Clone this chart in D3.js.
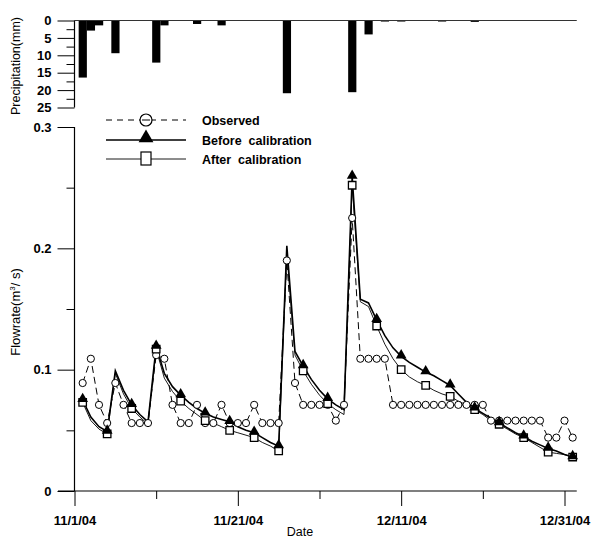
<!DOCTYPE html>
<html>
<head>
<meta charset="utf-8">
<script src="https://cdn.jsdelivr.net/npm/d3@7"></script>
<style>
  body { margin: 0; background: #fff; }
  svg { font-family: "Liberation Sans", Arial, sans-serif; }
</style>
</head>
<body>
<svg width="592" height="540"></svg>
<script>
// daily values, first entry = 11/2/04
const startDate = new Date(2004, 10, 2);

const precipitation = [16.4, 2.9, 1.4, 0, 9.4, 0, 0, 0, 0, 12.1, 1.4, 0, 0, 0, 1.0, 0, 0, 1.4, 0, 0,
  0, 0, 0, 0, 0, 20.9, 0, 0, 0, 0, 0, 0, 0, 20.6, 0, 4.0, 0, 0.3, 0, 0.3,
  0, 0, 0, 0, 0.3, 0, 0, 0, 0.4, 0, 0, 0, 0, 0, 0, 0, 0, 0, 0, 0, 0];

const observed = [0.089, 0.109, 0.071, 0.056, 0.089, 0.071, 0.056, 0.056, 0.056, 0.112,
  0.109, 0.071, 0.056, 0.056, 0.071, 0.056, 0.056, 0.071, 0.056, 0.056,
  0.056, 0.071, 0.056, 0.056, 0.056, 0.190, 0.089, 0.071, 0.071, 0.071,
  0.071, 0.058, 0.071, 0.225, 0.109, 0.109, 0.109, 0.109, 0.071, 0.071,
  0.071, 0.071, 0.071, 0.071, 0.071, 0.071, 0.071, 0.071, 0.071, 0.071,
  0.058, 0.058, 0.058, 0.058, 0.058, 0.058, 0.058, 0.044, 0.044, 0.058, 0.044];

const beforeCal = [0.075, 0.061, 0.053, 0.049, 0.099, 0.083, 0.071, 0.063, 0.057, 0.119,
  0.097, 0.086, 0.079, 0.073, 0.068, 0.064, 0.061, 0.059, 0.057, 0.053,
  0.050, 0.048, 0.044, 0.040, 0.037, 0.202, 0.115, 0.103, 0.092, 0.083,
  0.076, 0.071, 0.067, 0.259, 0.158, 0.155, 0.141, 0.128, 0.118, 0.111,
  0.106, 0.102, 0.098, 0.095, 0.091, 0.087, 0.080, 0.073, 0.068, 0.064,
  0.060, 0.056, 0.052, 0.048, 0.045, 0.041, 0.038, 0.035, 0.033, 0.030, 0.028];

const afterCal = [0.073, 0.058, 0.051, 0.047, 0.097, 0.080, 0.068, 0.061, 0.055, 0.117,
  0.093, 0.082, 0.074, 0.068, 0.063, 0.058, 0.056, 0.053, 0.050, 0.048,
  0.046, 0.044, 0.040, 0.037, 0.033, 0.196, 0.112, 0.099, 0.088, 0.079,
  0.072, 0.067, 0.063, 0.252, 0.156, 0.152, 0.136, 0.121, 0.109, 0.100,
  0.094, 0.090, 0.087, 0.083, 0.080, 0.078, 0.074, 0.071, 0.067, 0.063,
  0.058, 0.055, 0.051, 0.047, 0.044, 0.040, 0.036, 0.032, 0.031, 0.030, 0.028];

const majorTickDates = [new Date(2004, 10, 1), new Date(2004, 10, 21), new Date(2004, 11, 11), new Date(2004, 11, 31)];
const minorTickDates = [new Date(2004, 10, 11), new Date(2004, 11, 1), new Date(2004, 11, 21)];
const flowTicks = [0, 0.1, 0.2, 0.3];
const flowMinor = [0.05, 0.15, 0.25];
const rainTicks = [0, 5, 10, 15, 20, 25];
const rainMinor = [2.5, 7.5, 12.5, 17.5, 22.5];
const legendLabels = ["Observed", "Before  calibration", "After  calibration"];

const dates = observed.map((_, i) => d3.timeDay.offset(startDate, i));
const markerEvery = 3;

const svg = d3.select("svg");

const x = d3.scaleTime()
    .domain([new Date(2004, 10, 1), new Date(2004, 11, 31)])
    .range([74.5, 564.5]);
const y = d3.scaleLinear().domain([0, 0.3]).range([491, 127]);
const yr = d3.scaleLinear().domain([0, 25]).range([20.5, 107.5]);

const xEnd = x(new Date(2005, 0, 1, 12));

// ---- precipitation panel
const gr = svg.append("g");
gr.selectAll("rect")
  .data(precipitation.map((v, i) => ({date: dates[i], v: v})).filter(d => d.v > 0))
  .enter().append("rect")
    .attr("x", d => x(d.date) - 4)
    .attr("width", 8.2)
    .attr("y", yr(0))
    .attr("height", d => yr(d.v) - yr(0))
    .attr("fill", "#000");

gr.append("line")
    .attr("x1", x.range()[0]).attr("x2", xEnd)
    .attr("y1", yr(0)).attr("y2", yr(0))
    .attr("stroke", "#333").attr("stroke-width", 1.2);

const rainAxis = d3.axisLeft(yr).tickValues(rainTicks).tickSize(17).tickPadding(6);
gr.append("g")
    .attr("transform", `translate(${x.range()[0]},0)`)
    .call(rainAxis)
    .call(g => g.select(".domain").remove())
    .call(g => g.selectAll("text").attr("font-size", 13).attr("font-weight", "bold"));
gr.append("g")
    .attr("transform", `translate(${x.range()[0]},0)`)
    .call(d3.axisLeft(yr).tickValues(rainMinor).tickSize(8).tickFormat(""))
    .call(g => g.select(".domain").remove());
gr.append("line")
    .attr("x1", x.range()[0]).attr("x2", x.range()[0])
    .attr("y1", yr(0)).attr("y2", yr(25))
    .attr("stroke", "#000").attr("stroke-width", 1.2);

svg.append("text")
    .attr("transform", `translate(20,${(yr(0) + yr(25)) / 2 + 2}) rotate(-90)`)
    .attr("text-anchor", "middle")
    .attr("font-size", 12.5)
    .text("Precipitation(mm)");

// ---- flow panel
const g = svg.append("g");

g.append("g")
    .attr("transform", `translate(${x.range()[0]},0)`)
    .call(d3.axisLeft(y).tickValues(flowTicks).tickSize(17).tickPadding(6)
      .tickFormat(d => d === 0 ? "0" : d3.format(".1f")(d)))
    .call(a => a.select(".domain").remove())
    .call(a => a.selectAll("text").attr("font-size", 13).attr("font-weight", "bold"));
g.append("g")
    .attr("transform", `translate(${x.range()[0]},0)`)
    .call(d3.axisLeft(y).tickValues(flowMinor).tickSize(8).tickFormat(""))
    .call(a => a.select(".domain").remove());
g.append("line")
    .attr("x1", x.range()[0]).attr("x2", x.range()[0])
    .attr("y1", y(0)).attr("y2", y(0.3))
    .attr("stroke", "#000").attr("stroke-width", 1.2);

g.append("g")
    .attr("transform", `translate(0,${y(0)})`)
    .call(d3.axisBottom(x).tickValues(majorTickDates).tickSize(15).tickPadding(10)
      .tickFormat(d3.timeFormat("%-m/%-d/%y")))
    .call(a => a.select(".domain").remove())
    .call(a => a.selectAll("text").attr("font-size", 13).attr("font-weight", "bold"));
g.append("g")
    .attr("transform", `translate(0,${y(0)})`)
    .call(d3.axisBottom(x).tickValues(minorTickDates).tickSize(8).tickFormat(""))
    .call(a => a.select(".domain").remove());
g.append("line")
    .attr("x1", 58).attr("x2", xEnd)
    .attr("y1", y(0)).attr("y2", y(0))
    .attr("stroke", "#000").attr("stroke-width", 1.2);

svg.append("text")
    .attr("x", 300).attr("y", 536)
    .attr("text-anchor", "middle")
    .attr("font-size", 12.5)
    .text("Date");

svg.append("text")
    .attr("transform", `translate(20,312) rotate(-90)`)
    .attr("text-anchor", "middle")
    .attr("font-size", 13)
    .html('Flowrate(m<tspan font-size="8" dy="-5">3</tspan><tspan dy="5">/ s)</tspan>');

// ---- series
const line = vals => d3.line()
    .x((d, i) => x(dates[i]))
    .y(d => y(d))(vals);

g.append("path").attr("d", line(afterCal))
    .attr("fill", "none").attr("stroke", "#000").attr("stroke-width", 0.9);
g.append("path").attr("d", line(beforeCal))
    .attr("fill", "none").attr("stroke", "#000").attr("stroke-width", 1.6);
g.append("path").attr("d", line(observed))
    .attr("fill", "none").attr("stroke", "#000").attr("stroke-width", 1)
    .attr("stroke-dasharray", "7,4");

g.selectAll("circle.obs")
  .data(observed)
  .enter().append("circle")
    .attr("class", "obs")
    .attr("cx", (d, i) => x(dates[i]))
    .attr("cy", d => y(d))
    .attr("r", 3.6)
    .attr("fill", "#fff").attr("stroke", "#000").attr("stroke-width", 1);

const sq = d3.symbol().type(d3.symbolSquare).size(56);
const tri = d3.symbol().type(d3.symbolTriangle).size(50);

g.selectAll("path.sq")
  .data(afterCal.map((v, i) => ({v: v, i: i})).filter(d => d.i % markerEvery === 0))
  .enter().append("path")
    .attr("class", "sq")
    .attr("d", sq)
    .attr("transform", d => `translate(${x(dates[d.i])},${y(d.v)})`)
    .attr("fill", "#fff").attr("stroke", "#000").attr("stroke-width", 1.3);

g.selectAll("path.tri")
  .data(beforeCal.map((v, i) => ({v: v, i: i})).filter(d => d.i % markerEvery === 0))
  .enter().append("path")
    .attr("class", "tri")
    .attr("d", tri)
    .attr("transform", d => `translate(${x(dates[d.i])},${y(d.v) - 1})`)
    .attr("fill", "#000");

// ---- legend
const lg = svg.append("g");
const rowY = [120, 140, 159];
const lx1 = 106, lx2 = 186, lmx = 146;

lg.append("line").attr("x1", lx1).attr("x2", lx2).attr("y1", rowY[0]).attr("y2", rowY[0])
    .attr("stroke", "#000").attr("stroke-dasharray", "6,5");
lg.append("circle").attr("cx", lmx).attr("cy", rowY[0]).attr("r", 6)
    .attr("fill", "#fff").attr("stroke", "#000").attr("stroke-width", 1.2);
lg.append("line").attr("x1", lmx - 4).attr("x2", lmx + 4).attr("y1", rowY[0]).attr("y2", rowY[0])
    .attr("stroke", "#000");

lg.append("line").attr("x1", lx1).attr("x2", lx2).attr("y1", rowY[1]).attr("y2", rowY[1])
    .attr("stroke", "#000").attr("stroke-width", 1.6);
lg.append("path").attr("d", d3.symbol().type(d3.symbolTriangle).size(95))
    .attr("transform", `translate(${lmx},${rowY[1] - 2})`).attr("fill", "#000");

lg.append("line").attr("x1", lx1).attr("x2", lx2).attr("y1", rowY[2]).attr("y2", rowY[2])
    .attr("stroke", "#000").attr("stroke-width", 0.9);
lg.append("rect").attr("x", lmx - 5).attr("y", rowY[2] - 7).attr("width", 10).attr("height", 13)
    .attr("fill", "#fff").attr("stroke", "#000").attr("stroke-width", 1.2);

lg.selectAll("text")
  .data(legendLabels)
  .enter().append("text")
    .attr("x", 202)
    .attr("y", (d, i) => rowY[i] + 4.5)
    .attr("font-size", 12.5)
    .attr("font-weight", "bold")
    .attr("xml:space", "preserve")
    .style("white-space", "pre")
    .text(d => d);
</script>
</body>
</html>
